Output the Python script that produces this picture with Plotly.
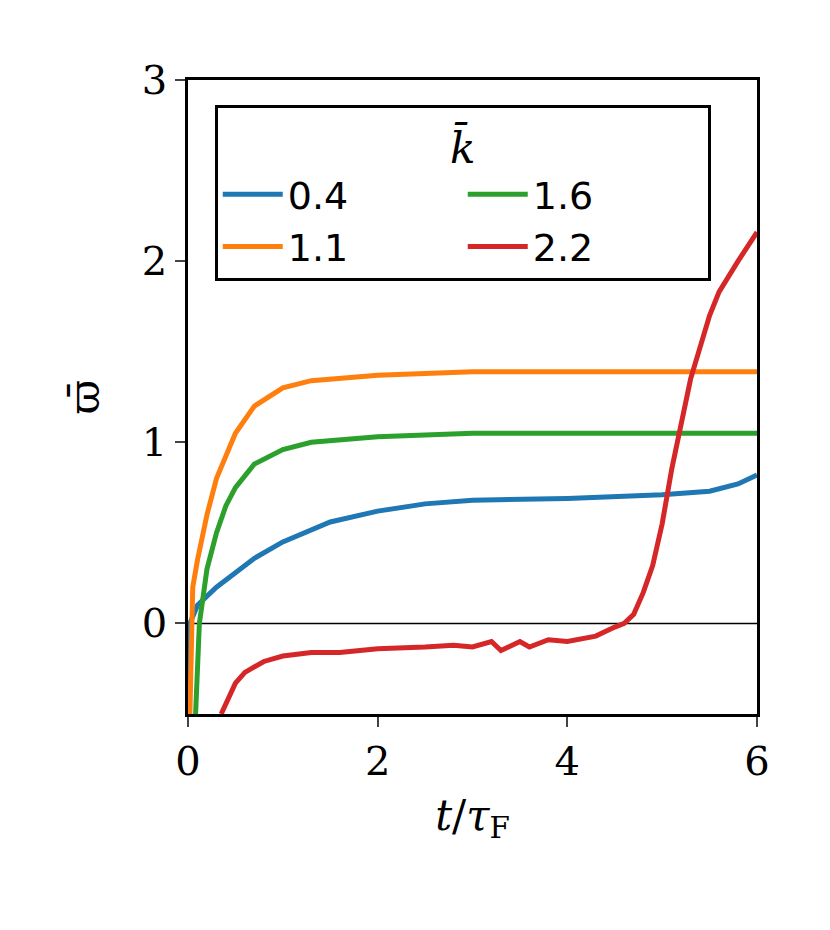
import plotly.graph_objects as go

labels = ["0.4", "1.1", "1.6", "2.2"]
colors = ["#1f77b4", "#ff7f0e", "#2ca02c", "#d62728"]
t_blue = [0.0, 0.02, 0.1, 0.3, 0.5, 0.7, 1.0, 1.5, 2, 2.5, 3, 4, 5, 5.5, 5.8, 6]
w_blue = [-0.5, 0.0, 0.1, 0.2, 0.28, 0.36, 0.45, 0.56, 0.62, 0.66, 0.68, 0.69, 0.71, 0.73, 0.77, 0.82]
t_orange = [0.02, 0.05, 0.1, 0.2, 0.3, 0.5, 0.7, 1.0, 1.3, 2, 3, 6]
w_orange = [-0.5, 0.2, 0.35, 0.6, 0.8, 1.05, 1.2, 1.3, 1.34, 1.37, 1.39, 1.39]
t_green = [0.08, 0.12, 0.2, 0.3, 0.4, 0.5, 0.7, 1.0, 1.3, 2, 3, 6]
w_green = [-0.5, 0.0, 0.3, 0.5, 0.65, 0.75, 0.88, 0.96, 1.0, 1.03, 1.05, 1.05]
t_red = [0.35, 0.5, 0.6, 0.8, 1.0, 1.3, 1.6, 2.0, 2.5, 2.8, 3.0, 3.2, 3.3, 3.5, 3.6, 3.8, 4.0, 4.3, 4.5, 4.6, 4.7, 4.8, 4.9, 5.0, 5.1, 5.2, 5.3, 5.5, 5.6, 5.8, 6.0]
w_red = [-0.5, -0.33, -0.27, -0.21, -0.18, -0.16, -0.16, -0.14, -0.13, -0.12, -0.13, -0.1, -0.15, -0.1, -0.13, -0.09, -0.1, -0.07, -0.02, 0.0, 0.05, 0.17, 0.32, 0.55, 0.85, 1.1, 1.35, 1.7, 1.83, 2.0, 2.16]

fig = go.Figure()
order = [0, 2, 1, 3]
series = [t_blue, t_orange, t_green, t_red]
vals = [w_blue, w_orange, w_green, w_red]
for i in order:
    fig.add_trace(go.Scatter(x=series[i], y=vals[i], mode="lines", name=labels[i],
                             line=dict(color=colors[i], width=5)))
fig.add_shape(type="line", x0=0, x1=6, y0=0, y1=0, line=dict(color="black", width=1.5), layer="below")

ax = dict(showline=True, linecolor="black", linewidth=2.5, mirror=True, ticks="outside", ticklen=10, tickwidth=2,
          showgrid=False, zeroline=False, tickfont=dict(family="DejaVu Serif", size=40, color="black"))
fig.update_layout(
    width=830, height=930, plot_bgcolor="white", paper_bgcolor="white",
    margin=dict(l=180, r=81, t=72, b=224),
    xaxis=dict(range=[0, 6], tickvals=[0, 2, 4, 6], title=dict(text="<i>t</i>/<i>τ</i><sub>F</sub>", font=dict(family="DejaVu Serif", size=42, color="black"), standoff=18), **ax),
    yaxis=dict(range=[-0.5, 3], tickvals=[0, 1, 2, 3], title=dict(text="ϖ̄", font=dict(family="DejaVu Serif", size=42, color="black"), standoff=30), **ax),
    legend=dict(x=0.047, y=0.96, xanchor="left", yanchor="top", orientation="h", entrywidth=170, itemwidth=60,
                bordercolor="black", borderwidth=3, bgcolor="white",
                title=dict(text="<i>k̄</i>", side="top center", font=dict(family="DejaVu Serif", size=42, color="black")),
                font=dict(family="DejaVu Sans", size=38, color="black")),
    showlegend=True,
)
fig.write_html("out.html")
